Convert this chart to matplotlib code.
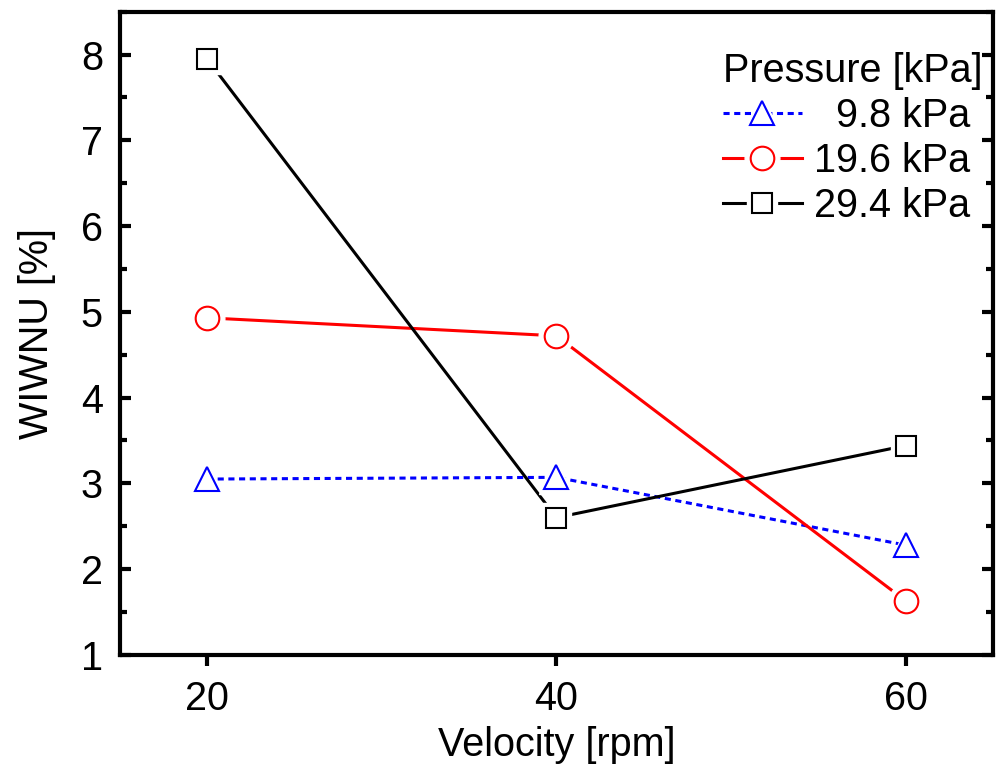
import matplotlib

matplotlib.use("Agg")
import matplotlib.pyplot as plt
from matplotlib.legend_handler import HandlerTuple
from matplotlib.ticker import MultipleLocator

plt.rcParams["font.family"] = ["Liberation Sans", "DejaVu Sans"]

velocity = [20, 40, 60]
p98 = [3.05, 3.07, 2.28]
p196 = [4.93, 4.72, 1.63]
p294 = [7.95, 2.60, 3.44]
labels = ["  9.8 kPa", "19.6 kPa", "29.4 kPa"]

FS = 28.5

fig = plt.figure(figsize=(9.97, 7.75), dpi=100)
ax = fig.add_axes([0.120, 0.155, 0.876, 0.830])

styles = [
    (p98, "blue", (0, (2.0, 1.5)), "^", 17),
    (p196, "red", "-", "o", 17),
    (p294, "black", "-", "s", 14),
]

handles = []
for (vals, color, ls, mk, ms), lab in zip(styles, labels):
    (ln,) = ax.plot(velocity, vals, color=color, ls=ls, lw=2.2, zorder=2)
    # white halo so the line stops short of the marker
    (halo,) = ax.plot(velocity, vals, ls="none", marker=mk, ms=ms + 8,
                      mfc="white", mec="white", zorder=3)
    (pt,) = ax.plot(velocity, vals, ls="none", marker=mk, ms=ms,
                    mfc="white", mec=color, mew=1.5, zorder=4)
    handles.append((ln, halo, pt))

ax.set_xlim(15, 65)
ax.set_ylim(1, 8.5)
ax.set_xticks(velocity)
ax.yaxis.set_major_locator(MultipleLocator(1))
ax.yaxis.set_minor_locator(MultipleLocator(0.5))

for s in ax.spines.values():
    s.set_linewidth(3)

ax.tick_params(axis="x", which="major", direction="out", length=8, width=3,
               labelsize=FS, pad=10)
ax.tick_params(axis="y", which="major", direction="in", length=8, width=3,
               labelsize=FS, pad=12, right=True)
ax.tick_params(axis="y", which="minor", direction="in", length=5, width=3,
               right=True)

ax.set_xlabel("Velocity [rpm]", fontsize=FS, labelpad=6)
ax.set_ylabel("WIWNU [%]", fontsize=FS, labelpad=18)

leg = ax.legend(handles, labels, title="Pressure [kPa]", loc="upper right",
                bbox_to_anchor=(0.988, 0.938),
                frameon=False, fontsize=FS, title_fontsize=FS,
                handlelength=2.0, handletextpad=0.3, labelspacing=0.18,
                borderaxespad=0.0, borderpad=0.0, alignment="left",
                handler_map={tuple: HandlerTuple(ndivide=1)})

fig.savefig("out.png", dpi=100)
